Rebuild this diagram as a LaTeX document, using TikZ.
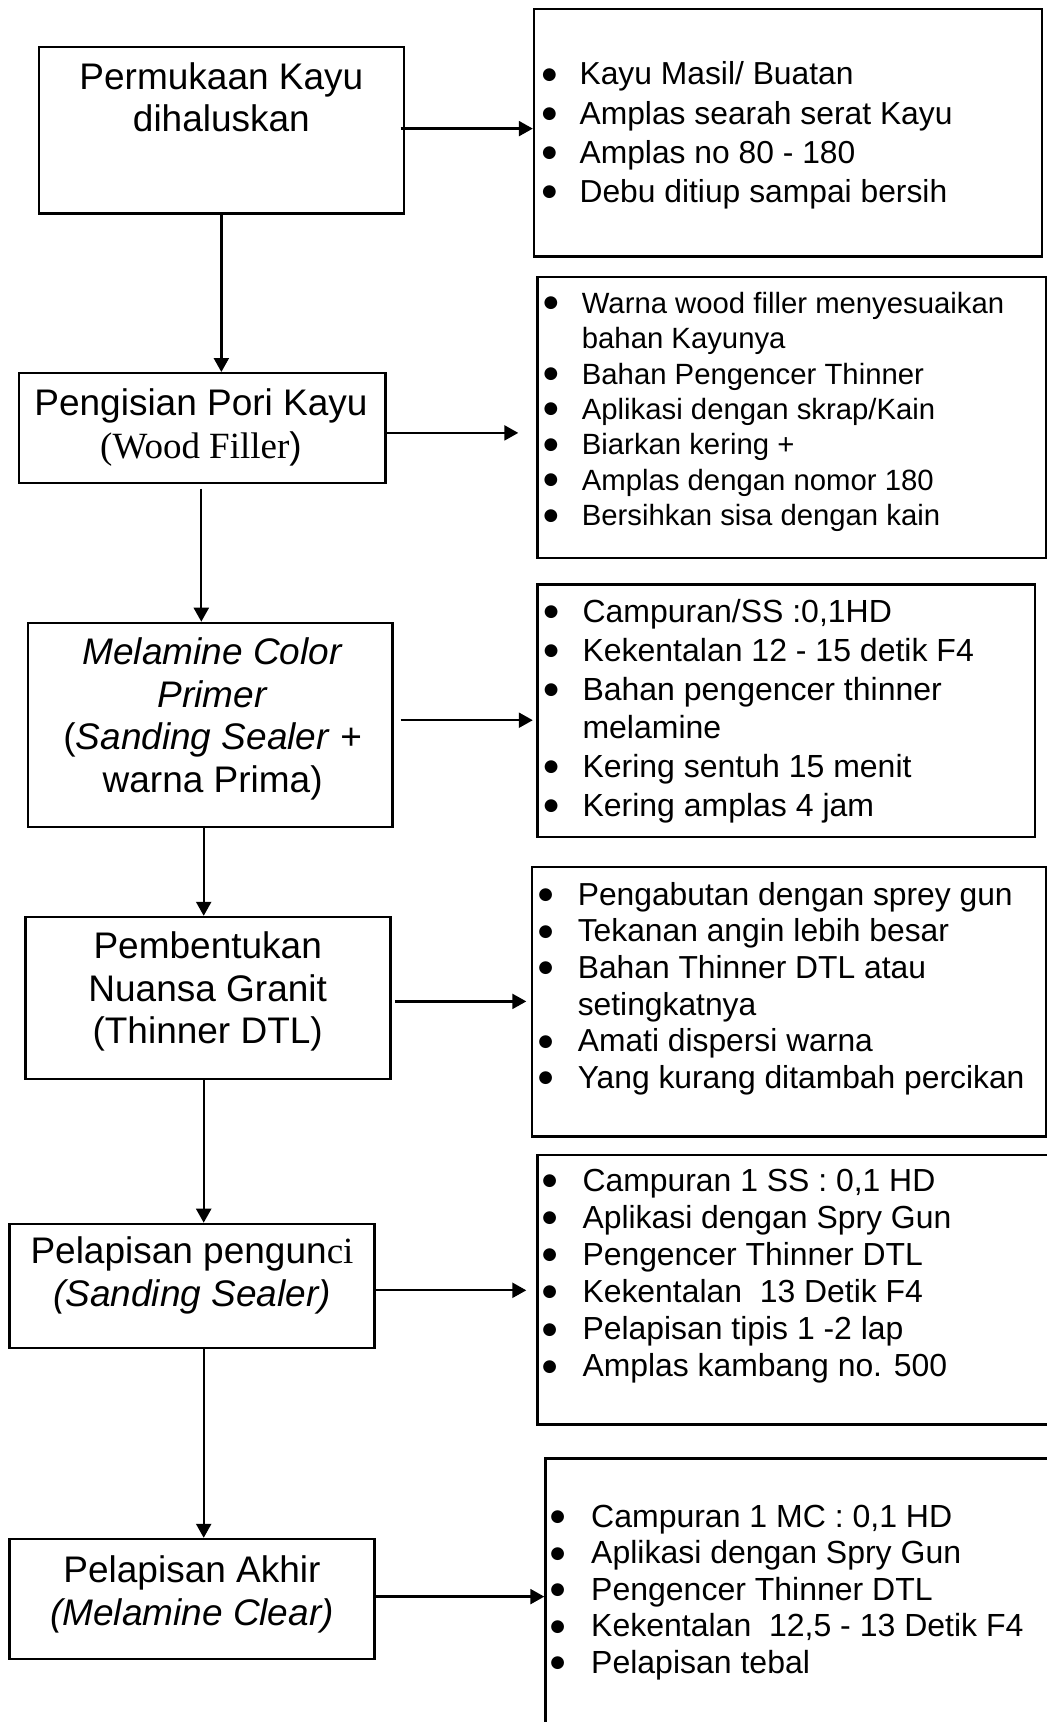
\documentclass[tikz,border=0pt]{standalone}
\usepackage{fontspec}
\setmainfont{Liberation Sans}
\newfontfamily\timesfont{Liberation Serif}
\newfontfamily\symfont{DejaVu Sans}
\usetikzlibrary{arrows.meta}
\newsavebox\bulbox
\newcommand{\bul}{\sbox\bulbox{\resizebox*{!}{12.8pt}{\symfont ●}}%
  \makebox[14pt][c]{\raisebox{\dimexpr10pt-\ht\bulbox/2+\dp\bulbox/2\relax}{\usebox\bulbox}}}

\begin{document}
\begin{tikzpicture}[x=1pt,y=-1pt,
    box/.style={draw, line width=2.4pt, inner sep=0pt},
    arr/.style={line width=2.3pt, -{Triangle[length=14pt,width=15pt]}},
    steptext/.style={anchor=base, inner sep=0pt, font=\fontsize{37}{42.5}\selectfont},
    listtext/.style 2 args={anchor=base west, inner sep=0pt, font=\fontsize{#1}{#2}\selectfont}]
    \useasboundingbox[fill=white] (0,0) rectangle (1047,1722);
    \clip (0,0) rectangle (1047,1722);

    % left column: steps
    \node[box, minimum width=365.3pt, minimum height=166.8pt] (b1) at (221.35,130.2) {};
    \node[box, minimum width=366.6pt, minimum height=109.7pt] (b2) at (202,428.05) {};
    \node[box, minimum width=364.6pt, minimum height=204.2pt] (b3) at (210.3,725) {};
    \node[box, minimum width=365.2pt, minimum height=161.7pt] (b4) at (208,997.85) {};
    \node[box, minimum width=365.3pt, minimum height=124pt] (b5) at (191.95,1285.9) {};
    \node[box, minimum width=365.3pt, minimum height=119.9pt] (b6) at (191.95,1598.95) {};

    \node[steptext] (t1) at (221.4,89.1)
      {\begin{tabular}[t]{@{}c@{}}Permukaan Kayu\\dihaluskan\end{tabular}};
    \node[steptext] (t2) at (201,415.9)
      {\begin{tabular}[t]{@{}c@{}}Pengisian Pori Kayu\\{\timesfont (Wood Filler})\end{tabular}};
    \node[steptext] (t3) at (212.7,664.8)
      {\begin{tabular}[t]{@{}c@{}}\textit{Melamine Color}\\\textit{Primer}\\(\textit{Sanding Sealer} +\\warna Prima)\end{tabular}};
    \node[steptext] (t4) at (207.7,958.9)
      {\begin{tabular}[t]{@{}c@{}}Pembentukan\\Nuansa Granit\\(Thinner DTL)\end{tabular}};
    \node[steptext] (t5) at (192,1263.7)
      {\begin{tabular}[t]{@{}c@{}}Pelapisan pengun{\timesfont ci}\\\textit{(Sanding Sealer)}\end{tabular}};
    \node[steptext] (t6) at (192,1582.9)
      {\begin{tabular}[t]{@{}c@{}}Pelapisan Akhir\\\textit{(Melamine Clear)}\end{tabular}};

    % right column: notes
    \node[box, minimum width=508pt, minimum height=247.5pt] (r1) at (788,132.65) {};
    \node[box, minimum width=508.2pt, minimum height=281.1pt] (r2) at (791.6,417.35) {};
    \node[box, minimum width=497.5pt, minimum height=252.3pt] (r3) at (786.25,710.55) {};
    \node[box, minimum width=513.5pt, minimum height=269.4pt] (r4) at (788.95,1001.7) {};
    \node[box, minimum width=522.5pt, minimum height=269.5pt] (r5) at (798.75,1289.55) {};
    \node[box, minimum width=509.5pt, minimum height=281.5pt] (r6) at (800.25,1599.25) {};

    \node[listtext={31.8}{39.2}] (l1) at (542.3,84.8)
      {\begin{tabular}[t]{@{}l@{\hspace{23.1pt}}l@{}}
       \bul & Kayu Masil/ Buatan\\
       \bul & Amplas searah serat Kayu\\
       \bul & Amplas no 80 - 180\\
       \bul & Debu ditiup sampai bersih
       \end{tabular}};
    \node[listtext={29.3}{35.4}] (l2) at (543.7,313.3)
      {\begin{tabular}[t]{@{}l@{\hspace{24pt}}l@{}}
       \bul & Warna wood filler menyesuaikan\\
            & bahan Kayunya\\
       \bul & Bahan Pengencer Thinner\\
       \bul & Aplikasi dengan skrap/Kain\\
       \bul & Biarkan kering +\\
       \bul & Amplas dengan nomor 180\\
       \bul & Bersihkan sisa dengan kain
       \end{tabular}};
    \node[listtext={32}{38.8}] (l3) at (543.9,622.4)
      {\begin{tabular}[t]{@{}l@{\hspace{24.4pt}}l@{}}
       \bul & Campuran/SS :0,1HD\\
       \bul & Kekentalan 12 - 15 detik F4\\
       \bul & Bahan pengencer thinner\\
            & melamine\\
       \bul & Kering sentuh 15 menit\\
       \bul & Kering amplas 4 jam
       \end{tabular}};
    \node[listtext={31.8}{36.6}] (l4) at (538.5,905.3)
      {\begin{tabular}[t]{@{}l@{\hspace{25.1pt}}l@{}}
       \bul & Pengabutan dengan sprey gun\\
       \bul & Tekanan angin lebih besar\\
       \bul & Bahan Thinner DTL atau\\
            & setingkatnya\\
       \bul & Amati dispersi warna\\
       \bul & Yang kurang ditambah percikan
       \end{tabular}};
    \node[listtext={31.9}{37.1}] (l5) at (542.5,1191.3)
      {\begin{tabular}[t]{@{}l@{\hspace{25.8pt}}l@{}}
       \bul & Campuran 1 SS : 0,1 HD\\
       \bul & Aplikasi dengan Spry Gun\\
       \bul & Pengencer Thinner DTL\\
       \bul & Kekentalan\ \ 13 Detik F4\\
       \bul & Pelapisan tipis 1 -2 lap\\
       \bul & Amplas kambang no. 500
       \end{tabular}};
    \node[listtext={32}{36.5}] (l6) at (550.6,1527.4)
      {\begin{tabular}[t]{@{}l@{\hspace{26.4pt}}l@{}}
       \bul & Campuran 1 MC : 0,1 HD\\
       \bul & Aplikasi dengan Spry Gun\\
       \bul & Pengencer Thinner DTL\\
       \bul & Kekentalan\ \ 12,5 - 13 Detik F4\\
       \bul & Pelapisan tebal
       \end{tabular}};

    % arrows down
    \draw[arr] (b1.south) -- (b1.south |- b2.north);
    \coordinate (v2) at (201.3,488.6);
    \draw[arr] (v2) -- (v2 |- b3.north);
    \coordinate (v3) at (203.7,827.1);
    \draw[arr] (v3) -- (v3 |- b4.north);
    \coordinate (v4) at (203.7,1078.7);
    \draw[arr] (v4) -- (v4 |- b5.north);
    \coordinate (v5) at (203.7,1347.9);
    \draw[arr] (v5) -- (v5 |- b6.north);

    % arrows right
    \coordinate (a1) at (400.6,128.6);
    \draw[arr] (a1) -- (a1 -| r1.west);
    \coordinate (a2) at (385.3,432.9);
    \draw[arr, shorten >=18pt] (a2) -- (a2 -| r2.west);
    \coordinate (a3) at (400.6,720.2);
    \draw[arr, shorten >=3.5pt] (a3) -- (a3 -| r3.west);
    \coordinate (a4) at (395.3,1001.4);
    \draw[arr, shorten >=4.7pt] (a4) -- (a4 -| r4.west);
    \coordinate (a5) at (376,1290.3);
    \draw[arr, shorten >=10pt] (a5) -- (a5 -| r5.west);
    \coordinate (a6) at (374.6,1596.6);
    \draw[arr] (a6) -- (a6 -| r6.west);
\end{tikzpicture}
\end{document}
